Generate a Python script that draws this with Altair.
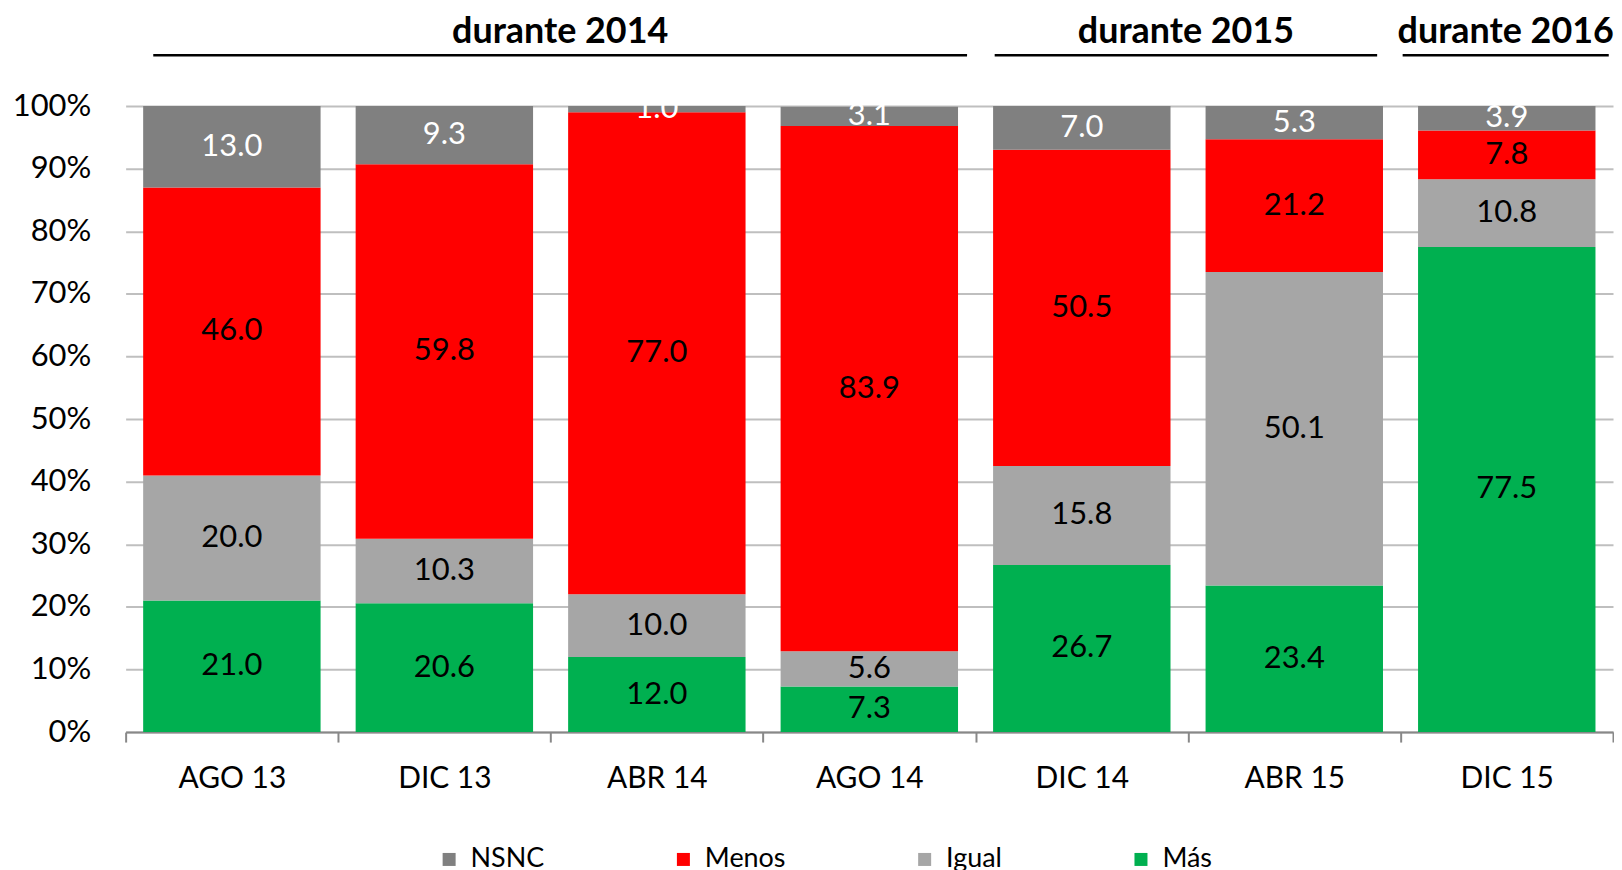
import altair as alt
import pandas as pd

# ---- data ----
periods = ["AGO 13", "DIC 13", "ABR 14", "AGO 14", "DIC 14", "ABR 15", "DIC 15"]
mas = [21.0, 20.6, 12.0, 7.3, 26.7, 23.4, 77.5]
igual = [20.0, 10.3, 10.0, 5.6, 15.8, 50.1, 10.8]
menos = [46.0, 59.8, 77.0, 83.9, 50.5, 21.2, 7.8]
nsnc = [13.0, 9.3, 1.0, 3.1, 7.0, 5.3, 3.9]

categories = ["NSNC", "Menos", "Igual", "Más"]
colors = ["#808080", "#FF0000", "#A6A6A6", "#00B050"]
stack_rank = {"Más": 0, "Igual": 1, "Menos": 2, "NSNC": 3}

group_labels = ["durante 2014", "durante 2015", "durante 2016"]
group_line_start = [0.13, 4.09, 6.01]   # in category units
group_line_end = [3.96, 5.89, 6.98]

FONT = "Lato"

rows = []
for cat, vals in zip(["Más", "Igual", "Menos", "NSNC"], [mas, igual, menos, nsnc]):
    for p, v in zip(periods, vals):
        rows.append({"period": p, "cat": cat, "value": v, "rank": stack_rank[cat]})
df = pd.DataFrame(rows)

hdf = pd.DataFrame({"label": group_labels, "start": group_line_start, "end": group_line_end})

W, H = 1492, 628

base = alt.Chart(df).transform_stack(
    stack="value", groupby=["period"],
    sort=[alt.SortField("rank", order="ascending")],
    as_=["y0", "y1"],
).transform_calculate(mid="(datum.y0 + datum.y1) / 2")

xenc = alt.X(
    "period:N", sort=periods, title=None,
    scale=alt.Scale(paddingInner=0, paddingOuter=0),
    axis=alt.Axis(labelAngle=0, labelFont=FONT, labelFontSize=30, labelColor="black",
                  tickBand="extent", tickSize=10, tickColor="#888888", tickWidth=2,
                  domainColor="#888888", domainWidth=2, labelPadding=22),
)

bars = base.mark_bar(width=alt.RelativeBandSize(0.835)).encode(
    x=xenc,
    y=alt.Y("y0:Q", title=None, scale=alt.Scale(domain=[0, 100], nice=False),
            axis=alt.Axis(values=list(range(0, 101, 10)), labelExpr="datum.value + '%'",
                          labelFont=FONT, labelFontSize=31, labelColor="black",
                          domain=False, ticks=False, labelPadding=35,
                          grid=True, gridColor="#BFBFBF", gridWidth=2)),
    y2="y1:Q",
    color=alt.Color("cat:N", scale=alt.Scale(domain=categories, range=colors),
                    legend=alt.Legend(title=None, orient="none", legendX=311, legendY=839,
                                      direction="horizontal", columns=4, columnPadding=126,
                                      symbolType="square", symbolSize=170, symbolStrokeWidth=0,
                                      labelFont=FONT, labelFontSize=27, labelColor="black",
                                      labelOffset=8)),
)

texts = base.mark_text(font=FONT, fontSize=31, baseline="middle").encode(
    x=alt.X("period:N", sort=periods),
    y=alt.Y("mid:Q"),
    text=alt.Text("value:Q", format=".1f"),
    color=alt.condition("datum.cat == 'NSNC'", alt.value("white"), alt.value("black")),
)

main = (bars + texts).properties(width=W, height=H)

hx = alt.Scale(domain=[0, 7], nice=False, zero=False)
hrules = alt.Chart(hdf).mark_rule(color="black", strokeWidth=2.5).encode(
    x=alt.X("start:Q", scale=hx, axis=None), x2="end:Q", y=alt.value(46)
)
htext = alt.Chart(hdf).transform_calculate(mid="(datum.start + datum.end) / 2").mark_text(
    font=FONT, fontSize=36, fontWeight="bold", baseline="middle", color="black"
).encode(x=alt.X("mid:Q", scale=hx, axis=None), y=alt.value(23), text="label:N")
header = (hrules + htext).properties(width=W, height=60)

chart = alt.vconcat(header, main, spacing=21).properties(
    padding={"left": 4, "top": 0, "right": 0, "bottom": 0}
).configure_view(stroke=None)

chart.save("out.html", embed_options={"renderer": "svg", "actions": False})
